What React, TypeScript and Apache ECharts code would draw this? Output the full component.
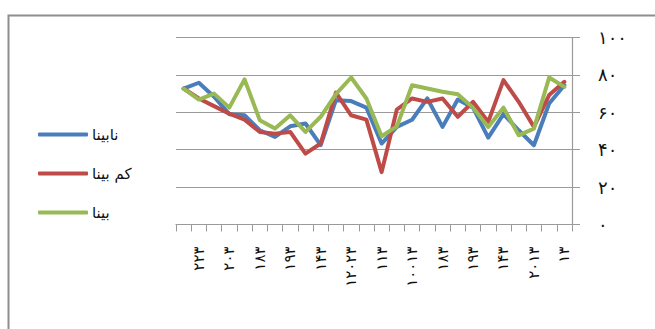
import React, { useEffect, useRef } from "react";
import * as echarts from "echarts";

// Category labels along the x axis (only every second slot carries a label)
const categories: string[] = [
  "", "۲۲۳", "", "۲۰۳", "", "۱۸۳", "", "۱۹۳", "", "۱۴۳", "", "۱۲۰۲۳", "",
  "۱۱۳", "", "۱۰۰۱۳", "", "۱۸۳", "", "۱۹۳", "", "۱۴۳", "", "۲۰۱۳", "", "۱۳",
];

const seriesNames: string[] = ["نابینا", "کم بینا", "بینا"];

const blind: number[] = [
  72.7, 75.8, 68.3, 59, 58.4, 50.4, 46.8, 52.5, 54, 42.4, 66.5, 66, 62.5,
  43.3, 52.2, 56, 67.4, 52.2, 66.8, 62.5, 46.5, 59, 50.4, 42.4, 64.7, 74.5,
];

const lowVision: number[] = [
  72.7, 67.4, 63.3, 59.3, 56.1, 49.5, 48.6, 49.5, 37.9, 43.3, 70.5, 58.4, 56.1,
  28, 61.5, 67.4, 65.6, 67.4, 57.6, 65.6, 54.9, 77.2, 65.6, 52.2, 69.2, 76.3,
];

const sighted: number[] = [
  72.7, 66.8, 70, 62.5, 77.6, 55.8, 51.3, 58.4, 49.5, 57.6, 69.7, 78.6, 67.4,
  47.2, 52.5, 74.5, 72.7, 71, 69.7, 62.5, 52.2, 62.5, 47.7, 51.3, 78.6, 73.6,
];

const yTickLabels: string[] = ["۰", "۲۰", "۴۰", "۶۰", "۸۰", "۱۰۰"];

const colors = ["#4a7ebb", "#be4b48", "#98b954"];
const font = "DejaVu Sans";

export default function App() {
  const ref = useRef<HTMLDivElement>(null);

  useEffect(() => {
    if (!ref.current) return;
    const chart = echarts.init(ref.current, undefined, { renderer: "svg" });
    const values = [blind, lowVision, sighted];

    chart.setOption({
      animation: false,
      backgroundColor: "#ffffff",
      color: colors,
      textStyle: { fontFamily: font },
      graphic: [
        {
          type: "rect",
          shape: { x: 8.5, y: 15.5, width: 700, height: 400 },
          style: { fill: "none", stroke: "#8e8e8e", lineWidth: 2 },
          silent: true,
        },
      ],
      legend: {
        orient: "vertical",
        left: 33,
        top: 121,
        itemWidth: 50,
        itemHeight: 4,
        itemGap: 22,
        icon: "roundRect",
        data: seriesNames,
        textStyle: {
          fontFamily: font,
          fontSize: 15,
          color: "#111",
          lineHeight: 17,
          padding: [0, 0, 0, -1],
        },
      },
      grid: { left: 176, right: 83, top: 37.5, bottom: 104.5, containLabel: false },
      xAxis: {
        type: "category",
        data: categories,
        boundaryGap: true,
        axisLine: { lineStyle: { color: "#9a9a9a", width: 1.2 } },
        axisTick: { show: true, interval: 0, length: 7, lineStyle: { color: "#9a9a9a" } },
        axisLabel: {
          interval: 0,
          rotate: 90,
          margin: 22,
          fontFamily: font,
          fontSize: 15,
          color: "#111",
        },
        splitLine: { show: false },
      },
      yAxis: {
        type: "value",
        position: "right",
        min: 0,
        max: 100,
        interval: 20,
        axisLine: { show: true, lineStyle: { color: "#9a9a9a", width: 1.2 } },
        axisTick: { show: true, length: 8, lineStyle: { color: "#9a9a9a" } },
        axisLabel: {
          margin: 26,
          fontFamily: font,
          fontSize: 18,
          color: "#111",
          formatter: (v: number) => yTickLabels[Math.round(v / 20)] ?? "",
        },
        splitLine: { show: true, lineStyle: { color: "#9a9a9a", width: 1.2 } },
      },
      series: seriesNames.map((name, i) => ({
        name,
        type: "line",
        data: values[i],
        showSymbol: false,
        symbol: "none",
        lineStyle: { width: 4, color: colors[i], cap: "round", join: "round" },
        itemStyle: { color: colors[i] },
      })),
    });

    return () => chart.dispose();
  }, []);

  return (
    <div
      ref={ref}
      style={{ position: "absolute", left: 0, top: 0, width: 655, height: 329 }}
    />
  );
}
